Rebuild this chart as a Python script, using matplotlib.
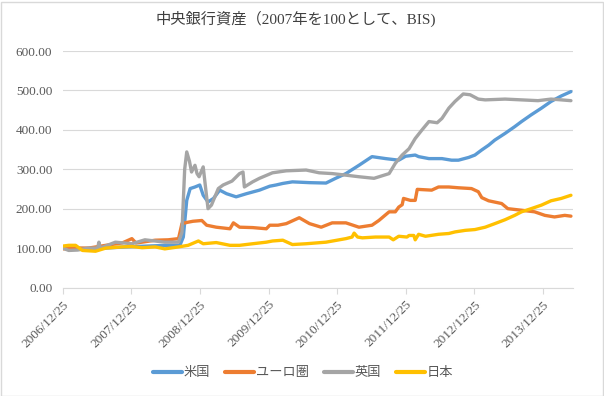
import matplotlib
matplotlib.use("Agg")
import matplotlib.pyplot as plt
from matplotlib.patches import Rectangle

plt.rcParams['font.family'] = ['Liberation Serif', 'Noto Sans CJK JP', 'DejaVu Sans']

title = "中央銀行資産（2007年を100として、BIS)"
series_names = ["米国", "ユーロ圏", "英国", "日本"]
colors = ["#5B9BD5", "#ED7D31", "#A5A5A5", "#FFC000"]

tick_years = [2006.982, 2007.982, 2008.982, 2009.982, 2010.982, 2011.982, 2012.982, 2013.982]
tick_labels = ["2006/12/25", "2007/12/25", "2008/12/25", "2009/12/25",
               "2010/12/25", "2011/12/25", "2012/12/25", "2013/12/25"]
y_ticks = [0, 100, 200, 300, 400, 500, 600]

# time as decimal years
us_t = [2006.98, 2007.3, 2007.6, 2007.9, 2008.2, 2008.5, 2008.69, 2008.74, 2008.79, 2008.84,
        2008.91, 2008.98, 2009.03, 2009.10, 2009.18, 2009.27, 2009.37, 2009.51, 2009.66, 2009.85,
        2010.00, 2010.09, 2010.19, 2010.33, 2010.58, 2010.82, 2010.96, 2011.11, 2011.30, 2011.49,
        2011.69, 2011.88, 2011.98, 2012.12, 2012.17, 2012.32, 2012.51, 2012.65, 2012.75, 2012.90,
        2012.99, 2013.09, 2013.19, 2013.28, 2013.43, 2013.57, 2013.67, 2013.81, 2013.96, 2014.10,
        2014.25, 2014.39]
us_v = [100, 99, 100, 103, 105, 107, 107, 128, 221, 251,
        255, 260, 234, 217, 226, 247, 238, 230, 238, 247,
        257, 260, 264, 268, 266, 265, 277, 289, 310, 332,
        327, 323, 333, 336, 332, 327, 327, 323, 323, 330,
        336, 349, 361, 374, 391, 408, 421, 438, 455, 472,
        486, 497]

eu_t = [2006.98, 2007.2, 2007.36, 2007.61, 2007.85, 2007.99, 2008.05, 2008.14, 2008.33, 2008.52,
        2008.67, 2008.72, 2008.79, 2008.88, 2009.01, 2009.08, 2009.22, 2009.42, 2009.47, 2009.56,
        2009.75, 2009.95, 2010.00, 2010.12, 2010.24, 2010.43, 2010.58, 2010.75, 2010.91, 2011.11,
        2011.30, 2011.49, 2011.59, 2011.74, 2011.83, 2011.88, 2011.93, 2011.95, 2012.05, 2012.12,
        2012.15, 2012.36, 2012.46, 2012.61, 2012.75, 2012.94, 2013.04, 2013.09, 2013.19, 2013.38,
        2013.47, 2013.67, 2013.86, 2014.01, 2014.15, 2014.30, 2014.39]
eu_v = [98, 100, 100, 107, 113, 124, 113, 115, 120, 121,
        124, 162, 165, 168, 170, 158, 153, 149, 164, 153,
        152, 149, 158, 158, 162, 177, 162, 153, 164, 164,
        153, 158, 170, 192, 192, 204, 210, 226, 221, 221,
        249, 247, 255, 255, 253, 251, 243, 228, 220, 213,
        200, 196, 192, 183, 179, 183, 181]

uk_t = [2006.98, 2007.07, 2007.2, 2007.36, 2007.49, 2007.51, 2007.53, 2007.75, 2007.99, 2008.18,
        2008.47, 2008.67, 2008.72, 2008.76, 2008.79, 2008.83, 2008.86, 2008.91, 2008.94, 2008.97,
        2009.03, 2009.06, 2009.10, 2009.15, 2009.25, 2009.32, 2009.45, 2009.56, 2009.61, 2009.63,
        2009.75, 2009.85, 2010.04, 2010.24, 2010.53, 2010.72, 2010.91, 2011.11, 2011.30, 2011.52,
        2011.74, 2011.83, 2011.93, 2012.03, 2012.12, 2012.22, 2012.32, 2012.44, 2012.51, 2012.61,
        2012.70, 2012.82, 2012.92, 2013.04, 2013.14, 2013.43, 2013.67, 2013.91, 2014.10, 2014.25,
        2014.39]
uk_v = [100, 94, 95, 100, 100, 115, 100, 115, 111, 121,
        115, 115, 140, 300, 344, 320, 293, 310, 289, 281,
        306, 260, 200, 209, 251, 260, 270, 289, 293, 255,
        268, 277, 291, 296, 298, 291, 289, 285, 281, 277,
        289, 315, 336, 352, 378, 400, 421, 418, 429, 455,
        472, 491, 489, 478, 476, 478, 476, 474, 478, 476,
        474]

jp_t = [2006.98, 2007.07, 2007.17, 2007.27, 2007.46, 2007.61, 2007.85, 2007.99, 2008.14, 2008.33,
        2008.47, 2008.67, 2008.81, 2008.96, 2009.03, 2009.22, 2009.42, 2009.56, 2009.75, 2009.95,
        2010.04, 2010.19, 2010.33, 2010.53, 2010.82, 2011.11, 2011.20, 2011.23, 2011.28, 2011.35,
        2011.54, 2011.74, 2011.80, 2011.88, 2012.00, 2012.03, 2012.10, 2012.12, 2012.17, 2012.27,
        2012.46, 2012.61, 2012.70, 2012.85, 2012.99, 2013.14, 2013.28, 2013.43, 2013.57, 2013.67,
        2013.81, 2013.96, 2014.10, 2014.25, 2014.39]
jp_v = [105, 107, 107, 94, 92, 100, 103, 104, 101, 103,
        98, 103, 107, 118, 111, 114, 107, 107, 111, 115,
        118, 120, 109, 111, 115, 124, 128, 138, 128, 126,
        128, 128, 121, 130, 128, 132, 132, 121, 135, 130,
        135, 137, 141, 145, 147, 153, 162, 172, 183, 192,
        200, 209, 220, 226, 234]

W, H = 604, 396
fig = plt.figure(figsize=(W / 100, H / 100), dpi=100)
fig.patches.append(Rectangle((0.5 / W, 0.5 / H), 1 - 2 / W, 1 - 2 / H, transform=fig.transFigure,
                             fill=False, edgecolor="#D9D9D9", linewidth=1.0))

ax = fig.add_axes([62.7 / W, (H - 287.5) / H, (573 - 62.7) / W, (287.5 - 51) / H])

for t, v, name, c in zip([us_t, eu_t, uk_t, jp_t], [us_v, eu_v, uk_v, jp_v], series_names, colors):
    ax.plot(t, v, color=c, linewidth=2.4, label=name, solid_joinstyle="round", solid_capstyle="round")

ax.set_xlim(2006.982, 2014.42)
ax.set_ylim(0, 600)
ax.set_yticks(y_ticks)
ax.set_yticklabels([f"{v:.2f}" for v in y_ticks])
ax.set_xticks(tick_years)
ax.set_xticklabels(tick_labels, rotation=45, ha="right", va="top", rotation_mode="anchor")

ax.grid(axis="y", color="#D9D9D9", linewidth=0.8)
ax.set_axisbelow(True)
for s in ["top", "right", "left"]:
    ax.spines[s].set_visible(False)
ax.spines["bottom"].set_color("#D9D9D9")
ax.spines["bottom"].set_linewidth(0.8)
ax.tick_params(axis="y", length=0, pad=7.5, labelsize=9.5, labelcolor="#595959")
ax.tick_params(axis="x", length=4, width=0.8, color="#D9D9D9", pad=4, labelsize=9.5, labelcolor="#595959")

fig.text(0.49, 1 - 19 / H, title, ha="center", va="center", fontsize=11, color="#404040")

leg = fig.legend(loc="center", bbox_to_anchor=(303 / W, 1 - 373 / H), ncol=4, frameon=False,
                 fontsize=9.5, handlelength=2.2, handletextpad=0.15, columnspacing=1.1)
for line in leg.get_lines():
    line.set_linewidth(3.0)
for txt in leg.get_texts():
    txt.set_color("#595959")

fig.savefig("out.png", dpi=100)
